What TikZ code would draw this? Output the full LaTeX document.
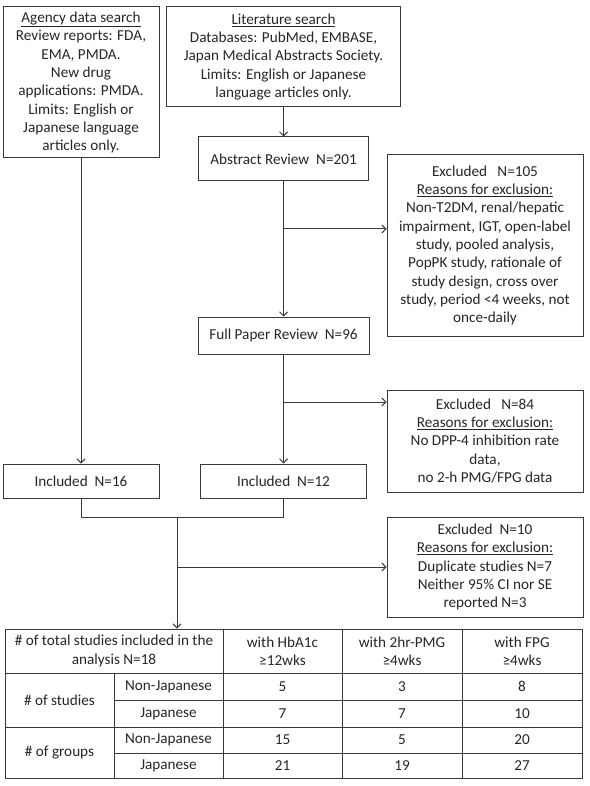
\documentclass[tikz,border=0pt]{standalone}
\usepackage{fontspec}
\setmainfont{Carlito}
\usetikzlibrary{arrows.meta}
\definecolor{linegray}{HTML}{3A3A3A}
\definecolor{textgray}{HTML}{262626}
\begin{document}
\begin{tikzpicture}[x=1pt,y=-1pt,
    font=\fontsize{15.2}{18.3}\selectfont,
    box/.style={draw=linegray, line width=1pt, align=center, inner sep=0pt, text=textgray},
    arr/.style={draw=linegray, line width=1pt, -{Straight Barb[length=4pt,width=8pt]}},
    seg/.style={draw=linegray, line width=1pt},
    cell/.style={inner sep=0pt, align=center, text=textgray}]
  \useasboundingbox (0,0) rectangle (589,786);

  % Search boxes
  \node[box, minimum width=156pt, minimum height=151pt] (agency) at (81,82.5)
    {\underline{Agency data search}\\Review reports: FDA,\\EMA, PMDA.\\New drug\\applications: PMDA.\\Limits: English or\\Japanese language\\articles only.};
  \node[box, minimum width=234pt, minimum height=100pt] (lit) at (283.5,57)
    {\underline{Literature search}\\Databases: PubMed, EMBASE,\\Japan Medical Abstracts Society.\\Limits: English or Japanese\\language articles only.};

  % Review steps
  \node[box, minimum width=170pt, minimum height=44pt] (abs) at (283.5,159) {Abstract Review~~N=201};
  \node[box, minimum width=171pt, minimum height=37pt] (full) at (283.5,335.5) {Full Paper Review~~N=96};

  % Exclusion boxes
  \node[box, minimum width=196pt, minimum height=181pt] (exc105) at (485,245.5)
    {Excluded~~~N=105\\\underline{Reasons for exclusion:}\\Non-T2DM, renal/hepatic\\impairment, IGT, open-label\\study, pooled analysis,\\PopPK study, rationale of\\study design, cross over\\study, period <4 weeks, not\\once-daily};
  \node[box, minimum width=196pt, minimum height=102pt] (exc84) at (485,441)
    {Excluded~~~N=84\\\underline{Reasons for exclusion:}\\No DPP-4 inhibition rate\\data,\\no 2-h PMG/FPG data};
  \node[box, minimum width=196pt, minimum height=100pt] (exc10) at (485,567)
    {Excluded~~N=10\\\underline{Reasons for exclusion:}\\Duplicate studies N=7\\Neither 95\% CI nor SE\\reported N=3};

  % Included boxes
  \node[box, minimum width=156pt, minimum height=34pt] (inc16) at (81,481) {Included~~N=16};
  \node[box, minimum width=166pt, minimum height=34pt] (inc12) at (283.5,481) {Included~~N=12};

  % Table frame
  \node[draw=linegray, line width=1pt, minimum width=577pt, minimum height=149pt, inner sep=0pt] (tab) at (293.5,703.5) {};

  % Connectors
  \coordinate (tap105) at (283.5,229);
  \coordinate (tap84) at (283.5,402);
  \coordinate (join) at (177,517);
  \draw[arr] (lit) -- (abs);
  \draw[arr] (abs) -- (full);
  \draw[arr] (tap105) -- (tap105 -| exc105.west);
  \draw[arr] (full) -- (inc12);
  \draw[arr] (tap84) -- (tap84 -| exc84.west);
  \draw[arr] (agency) -- (inc16);
  \draw[seg] (inc16.south) -- (inc16.south |- join) -| (inc12.south);
  \draw[arr] (join) -- (join |- tab.north);
  \draw[arr] (join |- exc10.west) -- (exc10.west);

  % Table grid
  \foreach \x in {114,223,342,462}
    \draw[seg] (\x,673) -- (\x,778);
  \foreach \x in {223,342,462}
    \draw[seg] (\x,629) -- (\x,673);
  \foreach \y in {673,727}
    \draw[seg] (5,\y) -- (582,\y);
  \foreach \y in {700,753}
    \draw[seg] (114,\y) -- (582,\y);

  % Table header
  \node[cell] (hdr) at (114,651) {\# of total studies included in the\\analysis N=18};
  \node[cell] (hba) at (282.5,651) {with HbA1c\\≥12wks};
  \node[cell] (pmg) at (402,651) {with 2hr-PMG\\≥4wks};
  \node[cell] (fpg) at (522,651) {with FPG\\≥4wks};

  % Row labels
  \node[cell] (nstud) at (59.5,700) {\# of studies};
  \node[cell] (ngrp) at (59.5,752.5) {\# of groups};
  \foreach \y/\lab [count=\i] in {686.5/Non-Japanese,713.5/Japanese,740/Non-Japanese,765.5/Japanese}
    \node[cell] (sub\i) at (168.5,\y) {\lab};

  % Counts
  \foreach \y/\a/\b/\c [count=\i] in {686.5/5/3/8,713.5/7/7/10,740/15/5/20,765.5/21/19/27}{
    \node[cell] (a\i) at (282.5,\y) {\a};
    \node[cell] (b\i) at (402,\y) {\b};
    \node[cell] (c\i) at (522,\y) {\c};
  }
\end{tikzpicture}
\end{document}
